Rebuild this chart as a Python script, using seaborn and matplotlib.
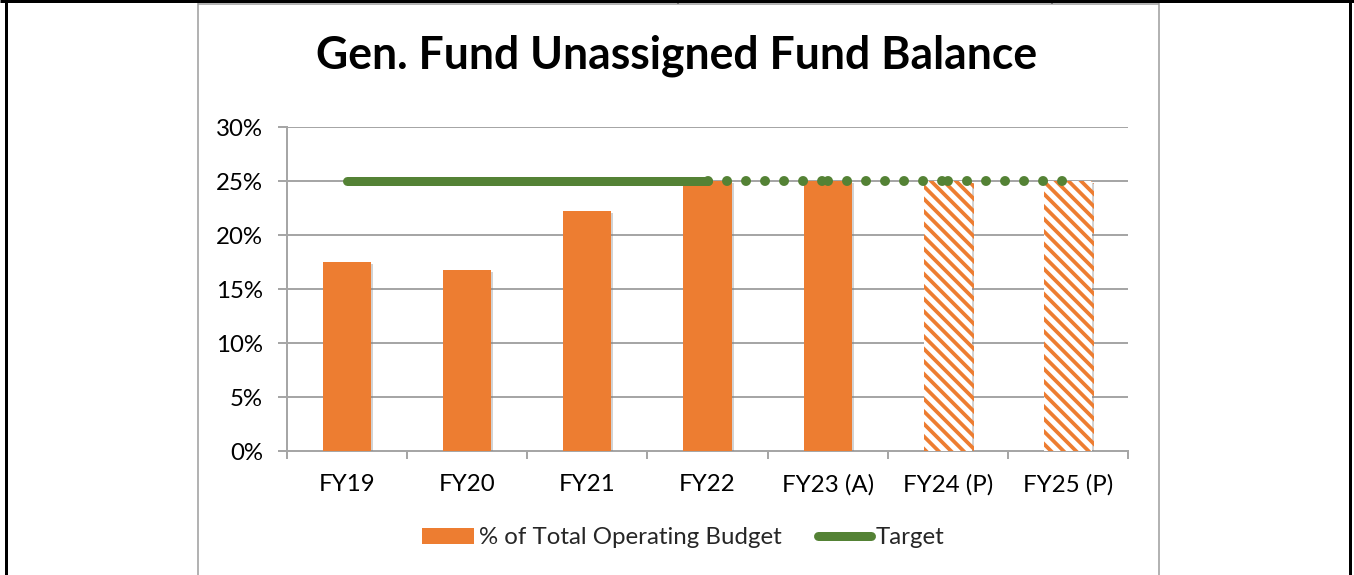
import matplotlib
matplotlib.use("Agg")
import matplotlib.pyplot as plt
import matplotlib.patheffects as pe
from matplotlib.lines import Line2D
from matplotlib.patches import Patch
from matplotlib.ticker import FixedLocator, FuncFormatter
import numpy as np
import pandas as pd
import seaborn as sns

# --- data -----------------------------------------------------------------
categories = ["FY19", "FY20", "FY21", "FY22", "FY23 (A)", "FY24 (P)", "FY25 (P)"]
pct_of_budget = [17.5, 16.8, 22.2, 25.0, 25.0, 25.0, 25.0]
projected = [False, False, False, False, False, True, True]
target = [25, 25, 25, 25, 25, 25, 25]
target_actual_end = 3  # solid target through FY22, dotted afterwards

ORANGE = "#ED7D31"
GREEN = "#548235"
GRID = "#A6A6A6"

DPI = 150
W, H = 1354, 575
px = 72.0 / DPI  # points per pixel

sns.set_theme(style="white")
plt.rcParams["font.family"] = ["Lato", "DejaVu Sans"]
plt.rcParams["hatch.linewidth"] = 1.8
plt.rcParams["hatch.color"] = ORANGE

fig = plt.figure(figsize=(W / DPI, H / DPI), dpi=DPI)
fig.patch.set_facecolor("white")

left, right, bottom, top = 287, 1128, 451, 127
ax = fig.add_axes([left / W, 1 - bottom / H, (right - left) / W, (bottom - top) / H])

df = pd.DataFrame({"year": categories, "pct": pct_of_budget})
sns.barplot(data=df, x="year", y="pct", color=ORANGE, saturation=1, width=0.4,
            ax=ax, zorder=3)

shadow = [pe.SimplePatchShadow(offset=(1.0, -1.0), shadow_rgbFace="#808080", alpha=0.35),
          pe.Normal()]
for bar, proj in zip(ax.patches, projected):
    bar.set_edgecolor("none")
    bar.set_path_effects(shadow)
    if proj:
        bar.set_facecolor("white")
        bar.set_hatch("\\\\\\\\")
        bar.set_edgecolor(ORANGE)
        bar.set_linewidth(0)

x = np.arange(len(categories))
lw = 9 * px
dot_lw = 10 * px
# solid target line for actual years
ax.plot(x[: target_actual_end + 1], target[: target_actual_end + 1], color=GREEN,
        lw=lw, solid_capstyle="round", zorder=5)
# projected target: round dots, pattern restarting at each category
for i in range(target_actual_end, len(categories) - 1):
    ax.plot(x[i: i + 2], target[i: i + 2], color=GREEN, lw=dot_lw,
            linestyle=(0, (0.001, 19 * px / dot_lw)), dash_capstyle="round", zorder=5)

ax.set_xlim(-0.5, len(categories) - 0.5)
ax.set_ylim(0, 30)
ax.yaxis.set_major_locator(FixedLocator(np.arange(0, 31, 5)))
ax.yaxis.set_major_formatter(FuncFormatter(lambda v, p: f"{v:.0f}%"))
ax.set_xlabel("")
ax.set_ylabel("")

ax.grid(axis="y", color=GRID, linewidth=2 * px)
ax.set_axisbelow(True)
for s in ["top", "right"]:
    ax.spines[s].set_visible(False)
for s in ["left", "bottom"]:
    ax.spines[s].set_color(GRID)
    ax.spines[s].set_linewidth(2 * px)

tick_fs = 24 * px
ax.tick_params(axis="y", which="major", length=9 * px, width=2 * px, color=GRID,
               direction="out", pad=15 * px, labelsize=tick_fs, labelcolor="black", left=True)
ax.tick_params(axis="x", which="major", length=0, pad=23 * px, labelsize=tick_fs,
               labelcolor="black")
ax.xaxis.set_minor_locator(FixedLocator(np.arange(-0.5, len(categories), 1.0)))
ax.tick_params(axis="x", which="minor", length=8 * px, width=2 * px, color=GRID,
               direction="out", bottom=True)

fig.text(677 / W, 1 - 56 / H, "Gen. Fund Unassigned Fund Balance", ha="center",
         va="center", fontsize=44.5 * px, fontweight="bold", color="black")

handles = [Patch(facecolor=ORANGE, edgecolor="none"),
           Line2D([0], [0], color=GREEN, lw=lw, solid_capstyle="round")]
fig.legend(handles, ["% of Total Operating Budget", "Target"], loc="center",
           bbox_to_anchor=(683 / W, 1 - 538 / H), ncol=2, frameon=False,
           fontsize=tick_fs, handlelength=2.2, handleheight=0.6, handletextpad=0.2,
           columnspacing=1.5)

# surrounding table rules and chart frame
def fline(xs, ys, color, width):
    fig.add_artist(Line2D([v / W for v in xs], [1 - v / H for v in ys],
                          color=color, lw=width * px, solid_capstyle="butt"))

fline([0, W], [1, 1], "black", 3)
fline([6, 6], [0, H], "black", 3)
fline([1350, 1350], [0, H], "black", 3)
fline([678, 678], [0, 4], "black", 2)
fline([1052, 1052], [0, 4], "black", 2)
fline([198, 198], [3, H], "#9A9A9A", 1.5)
fline([1158.5, 1158.5], [3, H], "#9A9A9A", 1.5)
fline([198, 1158.5], [3.5, 3.5], "#9A9A9A", 1.5)

fig.savefig("out.png", dpi=DPI)
